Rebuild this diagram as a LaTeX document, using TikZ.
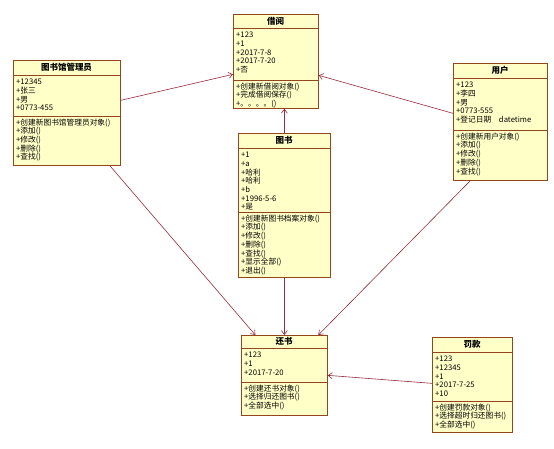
\documentclass[tikz,border=0pt]{standalone}
\usepackage{fontspec}
\setmainfont{Noto Sans CJK SC}
\usetikzlibrary{arrows.meta,calc}
\definecolor{boxfill}{RGB}{255,255,200}
\definecolor{boxline}{RGB}{145,70,30}
\definecolor{arrowc}{RGB}{150,45,60}
\tikzset{
  clsbox/.style={draw=boxline, fill=boxfill, line width=0.7pt, inner sep=0pt, anchor=north west},
  divline/.style={draw=boxline, line width=0.7pt},
  ttl/.style={font=\fontsize{8.5}{10}\selectfont\bfseries, inner sep=0pt},
  txt/.style={font=\fontsize{7.7}{8.7}\selectfont, inner sep=0pt, anchor=north west, align=left},
  assoc/.style={draw=arrowc, line width=0.6pt, -{Straight Barb[length=4pt,width=6pt]}},
}
% name, L, T, R, D1, D2, B, title, attributes
\newcommand\umlcls[9]{%
  \node[clsbox, minimum width={(#4-#2)*1pt}, minimum height={(#7-#3)*1pt}] (#1) at (#2,-#3) {};
  \draw[divline] (#2,-#5) -- (#4,-#5);
  \draw[divline] (#2,-#6) -- (#4,-#6);
  \node[ttl] (#1-t) at ({(#2+#4)/2},{-(#3+#5)/2}) {#8};
  \node[txt] (#1-a) at ({#2+3},{-(#5+4)}) {#9};
}
% name, L, D2, methods
\newcommand\umlmeth[4]{%
  \node[txt] (#1-m) at ({#2+3},{-(#3+2.5)}) {#4};
}
\begin{document}
\begin{tikzpicture}[x=1pt,y=1pt]
\useasboundingbox[fill=white] (0,0) rectangle (554,-449);

\umlcls{jy}{233}{14}{318}{28}{80}{108}{借阅}{+123\\+1\\+2017-7-8\\+2017-7-20\\+否}
\umlmeth{jy}{233}{80}{+创建新借阅对象()\\+完成借阅保存()\\+。。。。()}

\umlcls{gly}{13}{60}{120}{75}{116}{165}{图书馆管理员}{+12345\\+张三\\+男\\+0773-455}
\umlmeth{gly}{13}{116}{+创建新图书馆管理员对象()\\+添加()\\+修改()\\+删除()\\+查找()}

\umlcls{yh}{453}{63}{547}{78}{130}{180}{用户}{+123\\+李四\\+男\\+0773-555\\+登记日期\quad datetime}
\umlmeth{yh}{453}{130}{+创建新用户对象()\\+添加()\\+修改()\\+删除()\\+查找()}

\umlcls{ts}{238}{133}{330}{148}{212}{277}{图书}{+1\\+a\\+哈利\\+哈利\\+b\\+1996-5-6\\+是}
\umlmeth{ts}{238}{212}{+创建新图书档案对象()\\+添加()\\+修改()\\+删除()\\+查找()\\+显示全部()\\+退出()}

\umlcls{hs}{241}{335}{327}{348}{382}{415}{还书}{+123\\+1\\+2017-7-20}
\umlmeth{hs}{241}{382}{+创建还书对象()\\+选择归还图书()\\+全部选中()}

\umlcls{fk}{432}{337}{512}{352}{401}{432}{罚款}{+123\\+12345\\+1\\+2017-7-25\\+10}
\umlmeth{fk}{432}{401}{+创建罚款对象()\\+选择超时归还图书()\\+全部选中()}

% connectors
\draw[assoc] ([yshift=12.5pt]gly.east) -- ([yshift=-13pt]jy.west);
\draw[assoc] ([yshift=8.5pt]yh.west) -- ([yshift=-14pt]jy.east);
\draw[assoc] (ts.north) -- (ts.north |- jy.south);
\draw[assoc] ([xshift=43pt]gly.south) -- ([xshift=-29pt]hs.north);
\draw[assoc] (ts.south) -- (ts.south |- hs.north);
\draw[assoc] ([xshift=-30pt]yh.south) -- ([xshift=34pt]hs.north);
\draw[assoc] ([yshift=1.5pt]fk.west) -- (hs.east);
\end{tikzpicture}
\end{document}
